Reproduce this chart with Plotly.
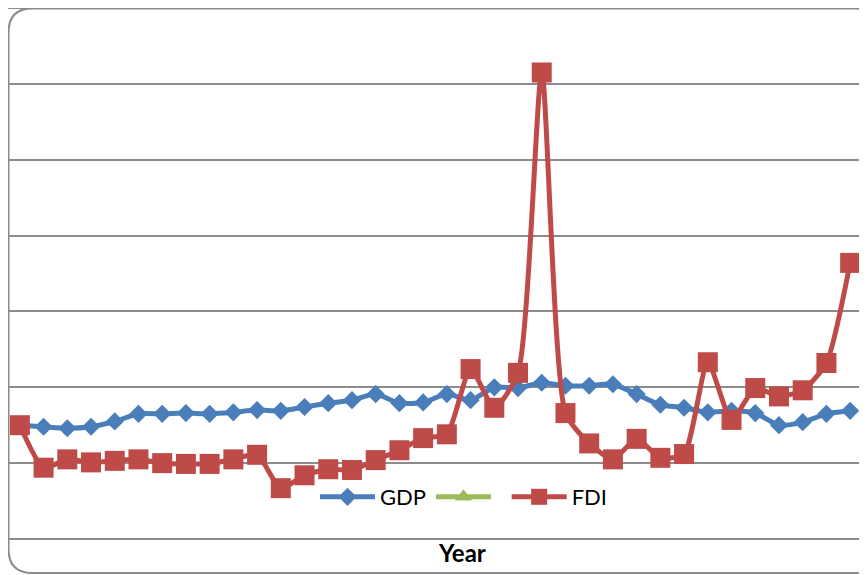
import plotly.graph_objects as go

years = list(range(1980, 2016))
gdp = [1.50, 1.48, 1.46, 1.48, 1.55, 1.65, 1.65, 1.66, 1.65, 1.67, 1.70, 1.69,
       1.74, 1.79, 1.83, 1.91, 1.79, 1.80, 1.91, 1.83, 2.00, 1.99, 2.06, 2.02,
       2.02, 2.04, 1.91, 1.77, 1.73, 1.67, 1.69, 1.66, 1.50, 1.54, 1.65, 1.69]
fdi = [1.50, 0.94, 1.05, 1.01, 1.03, 1.05, 1.00, 0.99, 0.99, 1.05, 1.11, 0.67,
       0.84, 0.92, 0.91, 1.04, 1.17, 1.33, 1.38, 2.24, 1.73, 2.19, 6.15, 1.66,
       1.26, 1.05, 1.32, 1.07, 1.12, 2.33, 1.57, 1.99, 1.88, 1.96, 2.32, 3.64]
series_names = ["GDP", " ", "FDI"]
x_title = "Year"

# the page body adds an 8px offset; work in page pixels and convert
OFF = 8
W, H = 867 - OFF, 575 - OFF
L, R, T, B = 8, 862, 8, 539  # plot area in page pixels

def px(x):
    return (x - L) / (R - L)

def py(y):
    return (B - y) / (B - T)

fig = go.Figure()
fig.add_trace(go.Scatter(
    x=years, y=gdp, name=series_names[0], mode="lines+markers",
    line=dict(color="#4A7EBB", width=5, shape="spline", smoothing=0.6),
    marker=dict(symbol="diamond", size=14, color="#4A7EBB")))
fig.add_trace(go.Scatter(
    x=[None], y=[None], name=series_names[1], mode="lines+markers",
    line=dict(color="#9BBB59", width=5),
    marker=dict(symbol="triangle-up", size=15, color="#9BBB59")))
fig.add_trace(go.Scatter(
    x=years, y=fdi, name=series_names[2], mode="lines+markers",
    line=dict(color="#BE4B48", width=5, shape="spline", smoothing=0.6),
    marker=dict(symbol="square", size=20, color="#BE4B48")))

# rounded chart frame
r = 24
x0, y0, x1, y1 = 8.5, 8.5, 878, 573
path = (f"M {px(x0)},{py(y0 + r)} "
        f"Q {px(x0)},{py(y0)} {px(x0 + r)},{py(y0)} "
        f"L {px(x1 - r)},{py(y0)} "
        f"Q {px(x1)},{py(y0)} {px(x1)},{py(y0 + r)} "
        f"L {px(x1)},{py(y1 - r)} "
        f"Q {px(x1)},{py(y1)} {px(x1 - r)},{py(y1)} "
        f"L {px(x0 + r)},{py(y1)} "
        f"Q {px(x0)},{py(y1)} {px(x0)},{py(y1 - r)} Z")

fig.update_layout(
    width=W, height=H,
    margin=dict(l=L - OFF, r=867 - R, t=T - OFF, b=575 - B),
    paper_bgcolor="white", plot_bgcolor="white",
    font=dict(family="Lato, Liberation Sans, sans-serif", size=22, color="#000000"),
    showlegend=True,
    legend=dict(orientation="h", x=px(315), y=py(497), xanchor="left", yanchor="middle",
                bgcolor="rgba(0,0,0,0)", font=dict(size=22), itemwidth=55,
                traceorder="normal"),
    xaxis=dict(range=[years[0] - 0.5, years[-1] + 0.5], showticklabels=False,
               showgrid=False, zeroline=False, showline=False, ticks=""),
    yaxis=dict(range=[0, 7], dtick=1, showticklabels=False, showgrid=True,
               gridcolor="#8C8C8C", gridwidth=2, zeroline=False,
               showline=False, ticks=""),
    shapes=[dict(type="path", xref="paper", yref="paper", path=path,
                 line=dict(color="#8C8C8C", width=2), layer="above"),
            dict(type="line", xref="paper", yref="paper", x0=0, x1=1, y0=0, y1=0,
                 line=dict(color="#8C8C8C", width=2), layer="below"),
            dict(type="line", xref="paper", yref="paper", x0=0, x1=1, y0=1, y1=1,
                 line=dict(color="#8C8C8C", width=2), layer="below")],
    annotations=[dict(text="<b>" + x_title + "</b>", xref="paper", yref="paper",
                      x=px(462), y=py(552), xanchor="center", yanchor="middle",
                      showarrow=False, font=dict(size=24))],
)

fig.write_html("out.html")
